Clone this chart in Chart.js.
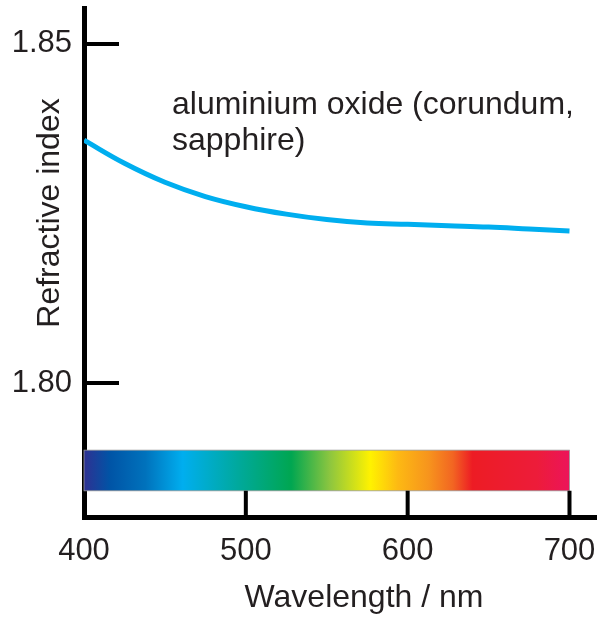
<!DOCTYPE html>
<html>
<head>
<meta charset="utf-8">
<title>Refractive index of aluminium oxide</title>
<script src="https://cdn.jsdelivr.net/npm/chart.js@4"></script>
<style>
    html, body { margin: 0; padding: 0; background: #fff; }
    #wrap { width: 597px; height: 619px; position: relative; }
</style>
</head>
<body>
<div id="wrap"><canvas id="indexChart" width="597" height="619"></canvas></div>
<script>
// curve
const wavelengths = [400, 425, 450, 475, 500, 525, 550, 575, 600, 625, 650, 675, 700];
const refractiveIndex = [1.8358, 1.8324, 1.8296, 1.8275, 1.8260, 1.8249, 1.8241, 1.8236, 1.8234, 1.8232, 1.8230, 1.8227, 1.8224];

const xTicks = [400, 500, 600, 700];
const yTicks = [1.80, 1.85];

// visible spectrum strip
const spectrumNm = [400, 416, 438, 461, 495, 528, 552, 577, 594, 613, 628, 640, 680, 700];
const spectrumColors = ["#2e3192", "#0054a6", "#0072bc", "#00aeef", "#00a99d", "#00a651", "#8dc63f",
    "#fff200", "#fdb913", "#f7941d", "#f26522", "#ed1c24", "#ed1c3a", "#ec145a"];
const spectrumRange = [1.7841, 1.7901];

const seriesLabel = "aluminium oxide (corundum, sapphire)";
const labelLines = ["aluminium oxide (corundum,", "sapphire)"];

const textColor = "#231f20";
const font = "'Liberation Sans', Arial, sans-serif";

const extras = {
    id: "extras",
    beforeDatasetsDraw(chart) {
        const ctx = chart.ctx;
        const x = chart.scales.x, y = chart.scales.y;
        const area = chart.chartArea;
        const first = spectrumNm[0], last = spectrumNm[spectrumNm.length - 1];

        // spectrum bar
        const x0 = x.getPixelForValue(first);
        const x1 = x.getPixelForValue(last);
        const yTop = y.getPixelForValue(spectrumRange[1]);
        const yBot = y.getPixelForValue(spectrumRange[0]);
        const grad = ctx.createLinearGradient(x0, 0, x1, 0);
        spectrumNm.forEach((nm, i) => {
            grad.addColorStop((nm - first) / (last - first), spectrumColors[i]);
        });
        ctx.save();
        ctx.fillStyle = grad;
        ctx.fillRect(x0, yTop, x1 - x0, yBot - yTop);
        ctx.strokeStyle = "#9a9a9a";
        ctx.lineWidth = 0.8;
        ctx.strokeRect(x0, yTop, x1 - x0, yBot - yTop);

        // tick marks drawn inside the plot
        ctx.strokeStyle = "#000";
        ctx.lineWidth = 4;
        ctx.beginPath();
        yTicks.forEach(v => {
            const py = y.getPixelForValue(v);
            ctx.moveTo(area.left, py);
            ctx.lineTo(area.left + 35, py);
        });
        xTicks.slice(1).forEach(v => {
            const px = x.getPixelForValue(v);
            ctx.moveTo(px, area.bottom);
            ctx.lineTo(px, yBot);
        });
        ctx.stroke();
        ctx.restore();
    },
    afterDraw(chart) {
        const ctx = chart.ctx;
        ctx.save();
        ctx.fillStyle = textColor;

        // curve label
        ctx.font = "32px " + font;
        ctx.textAlign = "left";
        ctx.textBaseline = "alphabetic";
        ctx.fillText(labelLines[0], 172, 114);
        ctx.fillText(labelLines[1], 172, 150);

        // axis titles
        ctx.textAlign = "center";
        ctx.textBaseline = "middle";
        ctx.fillText("Wavelength / nm", 364, 598);

        ctx.translate(50, 213);
        ctx.rotate(-Math.PI / 2);
        ctx.fillText("Refractive index", 0, 0);
        ctx.restore();
    }
};

document.addEventListener("DOMContentLoaded", function () {
    const ctx = document.getElementById("indexChart").getContext("2d");

    new Chart(ctx, {
        type: "line",
        data: {
            datasets: [{
                label: seriesLabel,
                data: wavelengths.map((w, i) => ({ x: w, y: refractiveIndex[i] })),
                borderColor: "#00aeef",
                borderWidth: 5,
                pointRadius: 0,
                tension: 0.4,
                fill: false
            }]
        },
        options: {
            responsive: false,
            animation: false,
            layout: { padding: { top: 8, left: 0, right: 0, bottom: 0 } },
            plugins: {
                legend: { display: false },
                tooltip: { enabled: false }
            },
            scales: {
                x: {
                    type: "linear",
                    min: 400,
                    max: 717,
                    afterBuildTicks: scale => { scale.ticks = xTicks.map(v => ({ value: v })); },
                    afterFit: scale => {
                        scale.height = 102;
                        scale.paddingLeft = 0;
                        scale.paddingRight = 0;
                    },
                    grid: { display: false, drawTicks: false },
                    border: { display: true, color: "#000", width: 5 },
                    ticks: {
                        padding: 16,
                        color: textColor,
                        font: { family: font, size: 31 },
                        maxRotation: 0
                    }
                },
                y: {
                    type: "linear",
                    min: 1.78024,
                    max: 1.8553,
                    afterBuildTicks: scale => { scale.ticks = yTicks.map(v => ({ value: v })); },
                    afterFit: scale => {
                        scale.width = 84;
                        scale.paddingTop = 0;
                        scale.paddingBottom = 0;
                    },
                    grid: { display: false, drawTicks: false },
                    border: { display: true, color: "#000", width: 5 },
                    ticks: {
                        padding: 12,
                        color: textColor,
                        font: { family: font, size: 31 },
                        callback: v => v.toFixed(2)
                    }
                }
            }
        },
        plugins: [extras]
    });
});
</script>
</body>
</html>
